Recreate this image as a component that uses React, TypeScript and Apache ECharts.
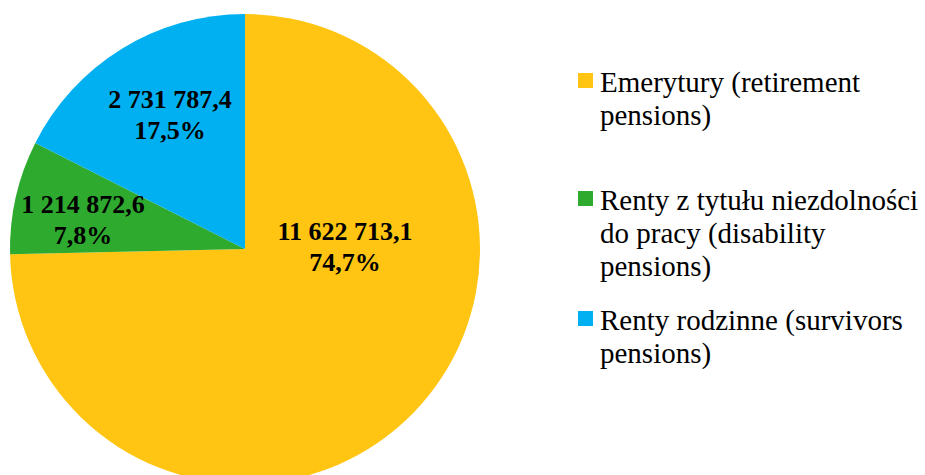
import React, { useEffect, useRef } from "react";
import * as echarts from "echarts";

const categories = [
  "Emerytury (retirement pensions)",
  "Renty z tytułu niezdolności do pracy (disability pensions)",
  "Renty rodzinne (survivors pensions)",
];
const legendLines = [
  ["Emerytury (retirement", "pensions)"],
  ["Renty z tytułu niezdolności", "do pracy (disability", "pensions)"],
  ["Renty rodzinne (survivors", "pensions)"],
];
const values = [11622713.1, 1214872.6, 2731787.4];
const colors = ["#FFC512", "#2EAA2F", "#00B0F0"];

// label layout (styling only)
const labelCenters = [
  [345, 247],
  [83, 220],
  [170, 115],
];
const legendTops = [82, 200, 320];
const FONT = "Liberation Serif";

function fmtNum(v: number): string {
  const [i, d] = v.toFixed(1).split(".");
  return i.replace(/\B(?=(\d{3})+(?!\d))/g, " ") + "," + d;
}

export default function App() {
  const ref = useRef<HTMLDivElement>(null);
  useEffect(() => {
    if (!ref.current) return;
    const chart = echarts.init(ref.current, null, { renderer: "svg" });
    const total = values.reduce((a, b) => a + b, 0);
    const graphic: any[] = [];
    legendLines.forEach((lines, i) => {
      const top = legendTops[i];
      graphic.push({
        type: "rect",
        shape: { x: 578, y: top - 9, width: 15, height: 15 },
        style: { fill: colors[i] },
      });
      graphic.push({
        type: "text",
        x: 600,
        y: top - 16.5,
        style: {
          text: lines.join("\n"),
          fontFamily: FONT,
          fontSize: 29,
          lineHeight: 33,
          fill: "#000",
        },
      });
    });
    chart.setOption({
      animation: false,
      backgroundColor: "#fff",
      graphic,
      series: [
        {
          type: "pie",
          center: [245, 249],
          radius: [0, 235],
          startAngle: 90,
          clockwise: true,
          data: categories.map((name, i) => ({
            name,
            value: values[i],
            itemStyle: { color: colors[i] },
          })),
          label: {
            show: true,
            position: "inside",
            formatter: (p: any) =>
              fmtNum(p.value) + "\n" + ((p.value / total) * 100).toFixed(1).replace(".", ",") + "%",
            fontFamily: FONT,
            fontWeight: "bold",
            fontSize: 26,
            lineHeight: 31,
            color: "#000",
            align: "center",
          },
          labelLine: { show: false },
          labelLayout: (p: any) => ({
            x: labelCenters[p.dataIndex][0],
            y: labelCenters[p.dataIndex][1],
            align: "center",
            verticalAlign: "middle",
          }),
          emphasis: { disabled: true },
        },
      ],
    });
    return () => chart.dispose();
  }, []);
  return (
    <div
      ref={ref}
      style={{ position: "absolute", left: 0, top: 0, width: 925, height: 475 }}
    />
  );
}
